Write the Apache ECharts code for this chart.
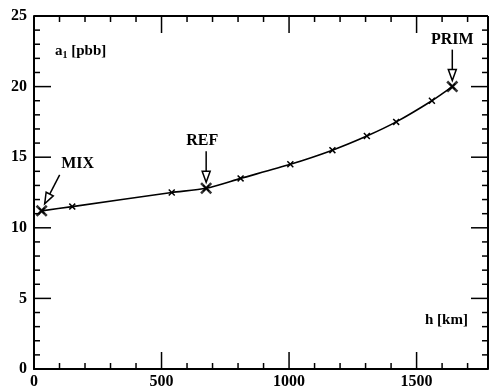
<!DOCTYPE html>
<html><head><meta charset="utf-8">
<script src="https://cdn.jsdelivr.net/npm/echarts@6/dist/echarts.min.js"></script>
<style>html,body{margin:0;padding:0;background:#fff}#c{width:493px;height:390px}</style>
</head><body><div id="c"></div>
<script>
// ---- data ----
const hKm   = [30, 150, 540, 675, 810, 1005, 1170, 1305, 1420, 1560, 1640];
const a1Pbb = [11.2, 11.5, 12.5, 12.8, 13.5, 14.5, 15.5, 16.5, 17.5, 19.0, 20.0];
const labelNames = ['MIX', 'REF', 'PRIM'];
const labelIdx   = [0, 3, 10];
const xMajor = [0, 500, 1000, 1500];
const xMinor = [100, 200, 300, 400, 600, 700, 800, 900, 1100, 1200, 1300, 1400, 1600, 1700];
const yMajor = [0, 5, 10, 15, 20, 25];
const yMinor = [1, 2, 3, 4, 6, 7, 8, 9, 11, 12, 13, 14, 16, 17, 18, 19, 21, 22, 23, 24];
const xMax = 1780, yMax = 25;

// ---- styling / layout ----
const FONT = '"Liberation Serif", "DejaVu Serif", serif';
const annLayout = [
  {sx: 18, sy: -36, tx: 3, ty: -7, lx: 36, ly: -47},
  {sx: 0, sy: -37, tx: 0, ty: -6, lx: -4, ly: -47},
  {sx: 0, sy: -37, tx: 0, ty: -6, lx: 0, ly: -47}
];
const crossPath = 'path://M0,1.5L1.5,0L5,3.5L8.5,0L10,1.5L6.5,5L10,8.5L8.5,10L5,6.5L1.5,10L0,8.5L3.5,5Z';
const lblFont = {color: '#000', fontFamily: FONT, fontWeight: 'bold', fontSize: 16};
const MAJOR_LEN = 17, MINOR_LEN = 6;

const chart = echarts.init(document.getElementById('c'), null, {renderer: 'canvas'});
chart.setOption({
  animation: false,
  backgroundColor: '#fff',
  grid: {left: 34, right: 5, top: 16, bottom: 21},
  xAxis: {type: 'value', min: 0, max: xMax, interval: 500,
    axisLine: {show: true, onZero: false, lineStyle: {color: '#000', width: 2}},
    axisTick: {show: false}, minorTick: {show: false}, splitLine: {show: false},
    axisLabel: Object.assign({show: true, margin: 5,
      formatter: v => (xMajor.indexOf(v) >= 0 ? String(v) : '')}, lblFont)},
  yAxis: {type: 'value', min: 0, max: yMax, interval: 5,
    axisLine: {show: true, onZero: false, lineStyle: {color: '#000', width: 2}},
    axisTick: {show: false}, minorTick: {show: false}, splitLine: {show: false},
    axisLabel: Object.assign({show: true, margin: 7}, lblFont)},
  series: [
    {
      type: 'line',
      data: hKm.map((h, i) => [h, a1Pbb[i]]),
      smooth: 0.25,
      symbol: crossPath,
      symbolSize: 7,
      showSymbol: true,
      itemStyle: {color: '#000'},
      lineStyle: {color: '#000', width: 1.6},
      z: 3
    },
    {
      type: 'scatter',
      data: labelIdx.map(i => [hKm[i], a1Pbb[i]]),
      symbol: crossPath,
      symbolSize: 12,
      itemStyle: {color: '#000'},
      z: 4
    },
    {
      type: 'custom',
      clip: false,
      data: labelIdx.map(i => [hKm[i], a1Pbb[i]]),
      renderItem: function (params, api) {
        const p = api.coord([api.value(0), api.value(1)]);
        const L = annLayout[params.dataIndex];
        const s = [p[0] + L.sx, p[1] + L.sy];
        const t = [p[0] + L.tx, p[1] + L.ty];
        const dx = t[0] - s[0], dy = t[1] - s[1];
        const len = Math.sqrt(dx * dx + dy * dy);
        const ux = dx / len, uy = dy / len;
        const hl = 11, hw = 4;
        const b = [t[0] - ux * hl, t[1] - uy * hl];
        const px = -uy, py = ux;
        return {
          type: 'group',
          children: [
            {type: 'line', shape: {x1: s[0], y1: s[1], x2: b[0], y2: b[1]},
             style: {stroke: '#000', lineWidth: 1.5}},
            {type: 'polygon', shape: {points: [t, [b[0] + px * hw, b[1] + py * hw], [b[0] - px * hw, b[1] - py * hw]]},
             style: {fill: '#fff', stroke: '#000', lineWidth: 1.5}},
            {type: 'text', x: p[0] + L.lx, y: p[1] + L.ly,
             style: {text: labelNames[params.dataIndex], font: 'bold 16px ' + FONT, fill: '#000',
                     textAlign: 'center', textVerticalAlign: 'middle'}}
          ]
        };
      },
      z: 5
    }
  ]
});

// frame + ticks on all four sides, positioned through the axis scales
const toPx = (x, y) => chart.convertToPixel({xAxisIndex: 0, yAxisIndex: 0}, [x, y]);
const tickStyle = {stroke: '#000', lineWidth: 1.5};
const gfx = [];
function seg(a, b, w) {
  gfx.push({type: 'line', z: 50, silent: true,
    shape: {x1: a[0], y1: a[1], x2: b[0], y2: b[1]},
    style: {stroke: '#000', lineWidth: w || 1.5}});
}
const c00 = toPx(0, 0), c11 = toPx(xMax, yMax);
seg([c00[0], c11[1]], [c11[0], c11[1]], 2);   // top border
seg([c11[0], c11[1]], [c11[0], c00[1]], 2);   // right border
function xTick(v, len) {
  const b = toPx(v, 0), t = toPx(v, yMax);
  seg(b, [b[0], b[1] - len]);
  seg(t, [t[0], t[1] + len]);
}
function yTick(v, len) {
  const l = toPx(0, v), r = toPx(xMax, v);
  seg(l, [l[0] + len, l[1]]);
  seg(r, [r[0] - len, r[1]]);
}
xMajor.forEach(v => xTick(v, MAJOR_LEN));
xMinor.forEach(v => xTick(v, MINOR_LEN));
yMajor.forEach(v => yTick(v, MAJOR_LEN));
yMinor.forEach(v => yTick(v, MINOR_LEN));

gfx.push(
  {type: 'text', left: 55, top: 44, z: 60, style: {
    text: '{b|a}{s|1}{b| [pbb]}',
    rich: {b: {fontFamily: FONT, fontWeight: 'bold', fontSize: 15, fill: '#000'},
           s: {fontFamily: FONT, fontWeight: 'bold', fontSize: 10, fill: '#000', padding: [8, 0, 0, 0]}}
  }},
  {type: 'text', left: 425, top: 313, z: 60, style: {text: 'h [km]', font: 'bold 15px ' + FONT, fill: '#000'}}
);
chart.setOption({graphic: gfx});
</script>
</body></html>
